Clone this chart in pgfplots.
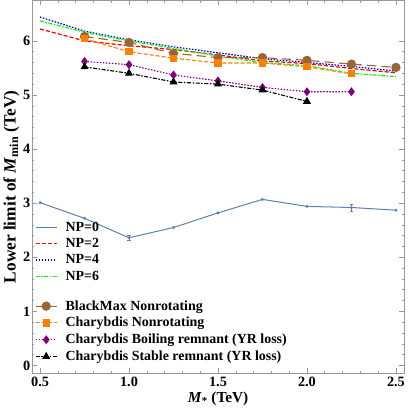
\documentclass[border=0pt]{standalone}
\usepackage{pgfplots}
\pgfplotsset{compat=1.18}
\usepackage{fontspec}
\setmainfont{Liberation Serif}

\definecolor{npzero}{rgb}{0.368,0.507,0.710}
\definecolor{nptwo}{rgb}{1,0,0}
\definecolor{npfour}{rgb}{0,0,1}
\definecolor{npsix}{rgb}{0,1,0}
\definecolor{bmbrown}{rgb}{0.6,0.4,0.2}
\definecolor{chorange}{rgb}{1,0.5,0}
\definecolor{chpurple}{rgb}{0.5,0,0.5}
\definecolor{framegray}{gray}{0.6}

\pgfplotsset{
    nptwo line/.style={color=nptwo, line width=1.2pt, dash pattern=on 4pt off 2pt},
    npfour line/.style={color=npfour, line width=1.2pt, dash pattern=on 1.5pt off 1.5pt},
    npsix line/.style={color=npsix, line width=1.2pt, dash pattern=on 4pt off 1.5pt on 1.5pt off 1.5pt},
}

\begin{document}
\begin{tikzpicture}
\begin{axis}[
    scale only axis,
    width=366pt,
    height=367pt,
    xmin=0.454, xmax=2.546,
    ymin=-0.15, ymax=6.75,
    xtick={0.5,1.0,1.5,2.0,2.5},
    ytick={0,1,2,3,4,5,6},
    minor x tick num=4,
    minor y tick num=4,
    tick align=inside,
    major tick length=5pt,
    minor tick length=2.5pt,
    tick style={framegray, line width=0.5pt},
    axis line style={framegray, line width=0.6pt},
    xticklabel style={/pgf/number format/.cd, fixed, fixed zerofill, precision=1},
    /pgf/number format/assume math mode=true,
    ticklabel style={font=\fontsize{14}{14}\selectfont\bfseries},
    xticklabel shift=0pt,
    yticklabel shift=-2pt,
    xlabel={\textit{M}\textsubscript{*} (TeV)},
    ylabel={Lower limit of \textit{M}\textsubscript{min} (TeV)},
    xlabel style={font=\fontsize{15}{15}\selectfont\bfseries, yshift=2pt},
    ylabel style={font=\fontsize{17}{17}\selectfont\bfseries, yshift=-3pt},
    legend cell align=left,
    legend style={
        at={(0.005,0.022)}, anchor=south west,
        draw=none, fill=none,
        font=\fontsize{13.7}{13.7}\selectfont\bfseries,
        row sep=1.5pt, inner sep=1pt,
        /tikz/every odd column/.append style={column sep=6pt},
    },
    legend image code/.code={
        \draw[mark repeat=2, mark phase=2, #1]
        plot coordinates {(0pt,0pt) (10.5pt,0pt) (21pt,0pt)};
    },
]

% simulations with NP = 0, 2, 4, 6
\addplot[npzero, line width=1pt, mark=*, mark size=0.9pt,
    legend image post style={mark=none},
    error bars/.cd, y dir=both, y explicit,
    error bar style={line width=0.6pt},
    error mark options={rotate=90, mark size=1.5pt, npzero}]
coordinates {
    (0.5,3.01) (0.75,2.72) (1.0,2.36) +- (0,0.04) (1.25,2.55) (1.5,2.82)
    (1.75,3.07) (2.0,2.94) (2.25,2.92) +- (0,0.06) (2.5,2.87)
};
\addlegendentry{NP=0}

\addplot[nptwo line, forget plot] coordinates {
    (0.5,6.22) (0.75,6.00) (1.0,5.91) (1.25,5.84) (1.5,5.74)
    (1.75,5.63) (2.0,5.58) (2.25,5.49) (2.5,5.41)
};
\addlegendimage{nptwo line}
\addlegendentry{NP=2}

\addplot[npfour line, forget plot] coordinates {
    (0.5,6.44) (0.75,6.18) (1.0,6.02) (1.25,5.89) (1.5,5.78)
    (1.75,5.67) (2.0,5.60) (2.25,5.53) (2.5,5.44)
};
\addlegendimage{npfour line}
\addlegendentry{NP=4}

\addplot[npsix line, forget plot] coordinates {
    (0.5,6.37) (0.75,6.16) (1.0,6.00) (1.25,5.86) (1.5,5.72)
    (1.75,5.60) (2.0,5.54) (2.25,5.40) (2.5,5.34)
};
\addlegendimage{npsix line}
\addlegendentry{NP=6}

\addlegendimage{empty legend}
\addlegendentry{\rule{0pt}{6pt}}

% generator results
\addplot[bmbrown, line width=1.1pt, dash pattern=on 9pt off 5pt,
    mark=*, mark size=4pt, mark options={solid}] coordinates {
    (0.75,6.08) (1.0,5.97) (1.25,5.77) (1.5,5.69) (1.75,5.69)
    (2.0,5.64) (2.25,5.57) (2.5,5.51)
};
\addlegendentry{BlackMax Nonrotating}

\addplot[chorange, line width=1.1pt, dash pattern=on 4pt off 2pt,
    mark=square*, mark size=3pt, mark options={solid}] coordinates {
    (0.75,6.04) (1.0,5.80) (1.25,5.68) (1.5,5.59) (1.75,5.59)
    (2.0,5.52) (2.25,5.39)
};
\addlegendentry{Charybdis Nonrotating}

\addplot[chpurple, line width=1.1pt, dash pattern=on 1.5pt off 1.5pt,
    mark=diamond*, mark size=3.5pt, mark options={solid}] coordinates {
    (0.75,5.62) (1.0,5.56) (1.25,5.37) (1.5,5.26) (1.75,5.14)
    (2.0,5.06) (2.25,5.06)
};
\addlegendentry{Charybdis Boiling remnant (YR loss)}

\addplot[black, line width=1.1pt, dash pattern=on 4pt off 1.5pt on 1.5pt off 1.5pt,
    mark=triangle*, mark size=3.5pt, mark options={solid}] coordinates {
    (0.75,5.52) (1.0,5.40) (1.25,5.24) (1.5,5.20) (1.75,5.09)
    (2.0,4.88)
};
\addlegendentry{Charybdis Stable remnant (YR loss)}

\end{axis}
\end{tikzpicture}
\end{document}
